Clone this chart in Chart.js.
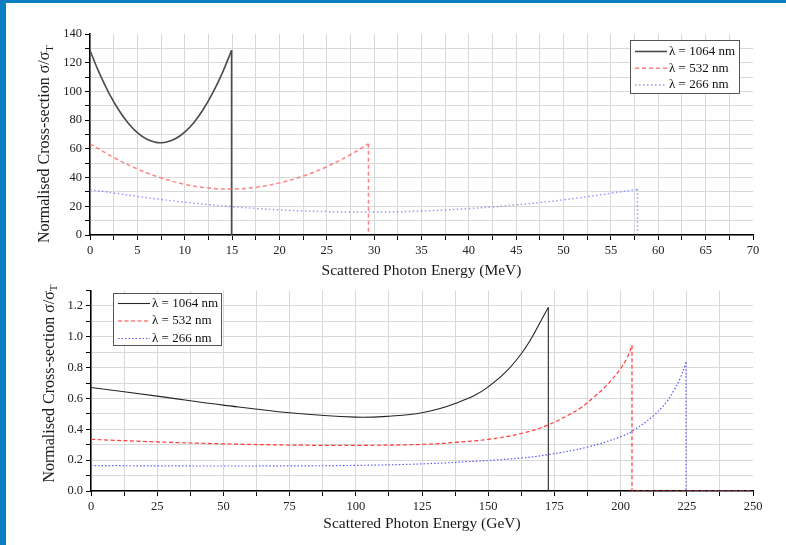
<!DOCTYPE html>
<html>
<head>
<meta charset="utf-8">
<script src="https://cdn.jsdelivr.net/npm/chart.js"></script>
<style>
  body { margin: 0; background: #fff; width: 786px; height: 545px; overflow: hidden; position: relative; }
  #edgeLeft { position: absolute; left: 0; top: 0; width: 6px; height: 545px; background: #0a7dc3; }
  #edgeTop { position: absolute; left: 0; top: 0; width: 786px; height: 3px; background: #0a7dc3; }
  .plot { position: absolute; left: 6px; width: 780px; }
  #mevBox { top: 3px; height: 277px; }
  #gevBox { top: 280px; height: 265px; }
</style>
</head>
<body>
<div id="edgeLeft"></div>
<div id="edgeTop"></div>
<div class="plot" id="mevBox"><canvas id="mevChart"></canvas></div>
<div class="plot" id="gevBox"><canvas id="gevChart"></canvas></div>
<script>
// Series labels (laser wavelength)
const wavelengths = ['λ = 1064 nm', 'λ = 532 nm', 'λ = 266 nm'];

// Upper panel: scattered photon energy in MeV
const mevEnergy1064 = [0, 1, 2, 3, 4, 5, 6, 7, 7.5, 8, 9, 10, 11, 12, 13, 14, 14.95];
const mevSigma1064  = [128.5, 112.6, 98.9, 87.4, 78.2, 71.3, 66.7, 64.5, 64.3, 64.6, 67, 71.7, 78.6, 87.9, 99.5, 113.3, 128.7];

const mevEnergy532 = [0, 2.5, 5, 7.5, 10, 12.5, 14.7, 17.5, 20, 22.5, 25, 27.5, 29.4];
const mevSigma532  = [63.5, 54, 46, 39.8, 35.3, 32.7, 32, 33.2, 36.3, 41, 47.6, 56, 63.5];

const mevEnergy266 = [0, 2.5, 5, 7.5, 10, 12.5, 15, 17.5, 20, 22.5, 25, 27.5, 30, 32.5, 35, 37.5, 40, 42.5, 45, 47.5, 50, 52.5, 55, 57.8];
const mevSigma266  = [31.5, 29.3, 26.9, 24.8, 22.8, 21.2, 19.7, 18.5, 17.5, 16.8, 16.3, 16, 16, 16.2, 16.7, 17.4, 18.4, 19.5, 21, 22.6, 24.5, 26.7, 29.1, 31.8];

// where each curve drops to zero, and how far the zero line runs after it
const mevCutoff = [14.95, 29.4, 57.8];
const mevTailEnd = [null, null, null];

// Lower panel: scattered photon energy in GeV
const gevEnergy1064 = [0, 25, 50, 75, 100, 112.5, 125, 137.5, 150, 162.5, 172.7];
const gevSigma1064  = [0.671, 0.615, 0.557, 0.507, 0.479, 0.485, 0.507, 0.567, 0.675, 0.89, 1.19];

const gevEnergy532 = [0, 25, 50, 75, 100, 125, 137.5, 150, 162.5, 172.5, 180, 185, 190, 195, 200, 202.5, 204.3];
const gevSigma532  = [0.335, 0.318, 0.306, 0.298, 0.296, 0.302, 0.315, 0.335, 0.373, 0.427, 0.49, 0.54, 0.61, 0.69, 0.795, 0.865, 0.945];

const gevEnergy266 = [0, 25, 50, 75, 100, 125, 150, 162.5, 172.5, 187.5, 200, 205, 212.5, 217.5, 220, 222.5, 224.7];
const gevSigma266  = [0.165, 0.163, 0.162, 0.163, 0.166, 0.176, 0.198, 0.214, 0.235, 0.285, 0.352, 0.395, 0.49, 0.58, 0.65, 0.73, 0.835];

const gevCutoff = [172.7, 204.3, 224.7];
const gevTailEnd = [null, 250, 250];

// Axis ranges: [min, max, grid step, label step]
const mevXAxis = [0, 70, 2.5, 5];
const mevYAxis = [0, 140, 10, 20];
const gevXAxis = [0, 250, 12.5, 25];
const gevYAxis = [0, 1.3, 0.1, 0.2];

const serif = "'Liberation Serif', 'Times New Roman', serif";
Chart.defaults.font.family = serif;

function pairs(xs, ys) {
  return xs.map((x, i) => ({ x: x, y: ys[i] }));
}

function onStep(v, step) {
  const k = v / step;
  return Math.abs(k - Math.round(k)) < 1e-6;
}

// rotated y title with a subscript T
const sigmaTitle = {
  id: 'sigmaTitle',
  afterDraw(chart, args, opts) {
    const ctx = chart.ctx;
    const main = 'Normalised Cross-section σ/σ';
    ctx.save();
    ctx.translate(opts.x, opts.y);
    ctx.rotate(-Math.PI / 2);
    ctx.fillStyle = '#1a1a1a';
    ctx.textBaseline = 'middle';
    ctx.textAlign = 'left';
    ctx.font = '16px ' + serif;
    const w = ctx.measureText(main).width;
    ctx.font = '11px ' + serif;
    const ws = ctx.measureText('T').width;
    const start = -(w + ws) / 2;
    ctx.font = '16px ' + serif;
    ctx.fillText(main, start, 0);
    ctx.font = '11px ' + serif;
    ctx.fillText('T', start + w, 5);
    ctx.restore();
  }
};

// framed legend sitting inside the plot area
const boxLegend = {
  id: 'boxLegend',
  afterDraw(chart, args, opts) {
    const ctx = chart.ctx;
    ctx.save();
    ctx.fillStyle = '#fff';
    ctx.fillRect(opts.left, opts.top, opts.width, opts.height);
    ctx.strokeStyle = '#555';
    ctx.lineWidth = 1;
    ctx.strokeRect(opts.left + 0.5, opts.top + 0.5, opts.width, opts.height);
    chart.data.datasets.filter(ds => ds.label).forEach((ds, i) => {
      const y = opts.top + opts.firstRow + i * opts.rowGap;
      ctx.beginPath();
      ctx.setLineDash(ds.borderDash || []);
      ctx.strokeStyle = ds.borderColor;
      ctx.lineWidth = ds.borderWidth;
      ctx.moveTo(opts.left + 5, y);
      ctx.lineTo(opts.left + 37, y);
      ctx.stroke();
      ctx.setLineDash([]);
      ctx.fillStyle = '#111';
      ctx.font = '13px ' + serif;
      ctx.textBaseline = 'middle';
      ctx.fillText(ds.label, opts.left + 39, y);
    });
    ctx.restore();
  }
};

function makeScales(xAxis, yAxis, xTitle, xHeight, yWidth, titlePad, yDigits) {
  const gridColor = (c, max) => (c.tick && Math.abs(c.tick.value - max) < 1e-9) ? 'rgba(0,0,0,0)' : '#d8d8d8';
  return {
    x: {
      type: 'linear',
      min: xAxis[0],
      max: xAxis[1],
      afterFit: s => { s.height = xHeight; },
      border: { color: '#000', width: 1.5 },
      grid: { color: c => gridColor(c, xAxis[1]), tickColor: '#000', tickLength: 5, lineWidth: 1 },
      ticks: {
        stepSize: xAxis[2],
        autoSkip: false,
        maxRotation: 0,
        padding: 3,
        color: '#222',
        font: { size: 12.5 },
        callback: v => onStep(v, xAxis[3]) ? String(Math.round(v * 10) / 10) : ''
      },
      title: {
        display: true,
        text: xTitle,
        color: '#1a1a1a',
        font: { size: 15.5 },
        padding: { top: 0, bottom: titlePad }
      }
    },
    y: {
      type: 'linear',
      min: yAxis[0],
      max: yAxis[1],
      afterFit: s => { s.width = yWidth; },
      border: { color: '#000', width: 1.5 },
      grid: { color: c => gridColor(c, yAxis[1]), tickColor: '#000', tickLength: 5, lineWidth: 1 },
      ticks: {
        stepSize: yAxis[2],
        autoSkip: false,
        padding: 3,
        color: '#222',
        font: { size: 12.5 },
        callback: v => onStep(v, yAxis[3]) ? v.toFixed(yDigits) : ''
      }
    }
  };
}

function lineSet(label, points, color, width, dash, tension) {
  return {
    label: label,
    data: points,
    borderColor: color,
    borderWidth: width,
    borderDash: dash,
    pointRadius: 0,
    tension: tension,
    fill: false
  };
}

// smooth curve plus the straight drop to zero at the cutoff energy
function curveSets(label, xs, ys, cutoff, tailEnd, color, width, dash) {
  const drop = [{ x: cutoff, y: ys[ys.length - 1] }, { x: cutoff, y: 0 }];
  if (tailEnd !== null) drop.push({ x: tailEnd, y: 0 });
  return [
    lineSet(label, pairs(xs, ys), color, width, dash, 0.4),
    lineSet('', drop, color, width, dash, 0)
  ];
}

const mevStyles = [['#4a4a4a', 1.6, []], ['rgba(255,90,90,0.75)', 1.5, [4, 3]], ['rgba(100,100,255,0.65)', 1.5, [1.5, 2.5]]];
const gevStyles = [['#262626', 1.1, []], ['#ff3b3b', 1.2, [4, 2.5]], ['#5c5cff', 1.2, [1.5, 2]]];

const mevCurves = [[mevEnergy1064, mevSigma1064], [mevEnergy532, mevSigma532], [mevEnergy266, mevSigma266]];
const gevCurves = [[gevEnergy1064, gevSigma1064], [gevEnergy532, gevSigma532], [gevEnergy266, gevSigma266]];

function buildSets(curves, cutoffs, tails, styles) {
  const main = [], drops = [];
  curves.forEach((c, i) => {
    const s = curveSets(wavelengths[i], c[0], c[1], cutoffs[i], tails[i], styles[i][0], styles[i][1], styles[i][2]);
    main.push(s[0]);
    drops.push(s[1]);
  });
  return main.concat(drops);
}

new Chart(document.getElementById('mevChart'), {
  type: 'line',
  data: { datasets: buildSets(mevCurves, mevCutoff, mevTailEnd, mevStyles) },
  options: {
    responsive: true,
    maintainAspectRatio: false,
    animation: false,
    layout: { padding: { top: 31, right: 33, left: 0, bottom: 0 } },
    scales: makeScales(mevXAxis, mevYAxis, 'Scattered Photon Energy (MeV)', 45, 84, 0, 0),
    plugins: {
      legend: { display: false },
      tooltip: { enabled: false },
      sigmaTitle: { x: 39, y: 141 },
      boxLegend: { left: 624, top: 37, width: 109, height: 53, firstRow: 11.5, rowGap: 16.7 }
    }
  },
  plugins: [sigmaTitle, boxLegend]
});

new Chart(document.getElementById('gevChart'), {
  type: 'line',
  data: { datasets: buildSets(gevCurves, gevCutoff, gevTailEnd, gevStyles) },
  options: {
    responsive: true,
    maintainAspectRatio: false,
    animation: false,
    layout: { padding: { top: 10, right: 33, left: 0, bottom: 0 } },
    scales: makeScales(gevXAxis, gevYAxis, 'Scattered Photon Energy (GeV)', 54, 85, 12, 1),
    plugins: {
      legend: { display: false },
      tooltip: { enabled: false },
      sigmaTitle: { x: 43.5, y: 103.5 },
      boxLegend: { left: 107, top: 13, width: 108, height: 52, firstRow: 10.5, rowGap: 17.5 }
    }
  },
  plugins: [sigmaTitle, boxLegend]
});
</script>
</body>
</html>
